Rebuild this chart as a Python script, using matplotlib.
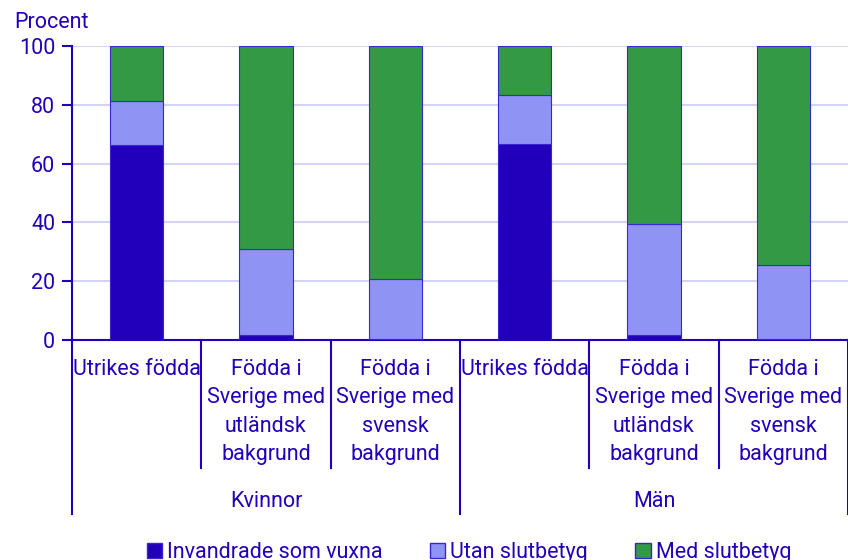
import matplotlib.pyplot as plt
import matplotlib.patches as mpatches
import numpy as np

plt.rcParams['font.family'] = ['Roboto', 'DejaVu Sans']

# data
grupper = ["Kvinnor", "Män"]
kategorier = ["Utrikes födda",
              "Födda i\nSverige med\nutländsk\nbakgrund",
              "Födda i\nSverige med\nsvensk\nbakgrund"]
invandrade_vuxna = [66.3, 1.8, 0.4, 66.6, 1.8, 0.2]
utan_slutbetyg = [14.9, 29.2, 20.2, 16.6, 37.6, 25.3]
med_slutbetyg = [18.8, 69.0, 79.4, 16.8, 60.6, 74.5]
serier = ["Invandrade som vuxna", "Utan slutbetyg", "Med slutbetyg"]

textfarg = "#2200bb"
farger = ["#2200bb", "#8f94f4", "#339944"]
fs = 15.5

fig = plt.figure(figsize=(8.48, 5.6), dpi=100)
ax = fig.add_axes([72 / 848, 1 - 340 / 560, 1 - 72 / 848, 294 / 560])

x = np.arange(len(invandrade_vuxna))
bottom = np.zeros(len(x))
for varden, farg in zip([invandrade_vuxna, utan_slutbetyg, med_slutbetyg], farger):
    ax.bar(x, varden, width=0.41, bottom=bottom, color=farg,
           edgecolor="#3a26d0", linewidth=0.8, zorder=3)
    bottom += np.array(varden)

ax.set_xlim(-0.5, len(x) - 0.5)
ax.set_ylim(0, 100)
ax.set_yticks([0, 20, 40, 60, 80, 100])
ax.yaxis.grid(True, color="#d4d4f2", linewidth=1.5, zorder=0)
ax.set_axisbelow(True)
ax.tick_params(axis="y", colors=textfarg, labelsize=fs, length=7, width=1.5, pad=5)
ax.tick_params(axis="x", bottom=False, labelbottom=False)
for s in ["top", "right"]:
    ax.spines[s].set_visible(False)
for s in ["left", "bottom"]:
    ax.spines[s].set_color(textfarg)
    ax.spines[s].set_linewidth(1.5)

fig.text(14 / 848, 1 - 28 / 560, "Procent", ha="left", va="baseline",
         fontsize=fs, color=textfarg)

trans = ax.get_xaxis_transform()
etiketter = kategorier * len(grupper)
for i, lab in enumerate(etiketter):
    ax.text(i, -0.065, lab, transform=trans, ha="center", va="top", fontsize=fs,
            color=textfarg, linespacing=1.45, clip_on=False)

# separatorlinjer under axeln
for i in range(len(x) + 1):
    gruppgrans = i % len(kategorier) == 0
    ned = -0.592 if gruppgrans else -0.435
    ax.plot([i - 0.5, i - 0.5], [0, ned], transform=trans, color=textfarg,
            linewidth=1.5, clip_on=False)

for g, namn in enumerate(grupper):
    mitt = g * len(kategorier) + (len(kategorier) - 1) / 2
    ax.text(mitt, -0.55, namn, transform=trans, ha="center", va="center",
            fontsize=fs, color=textfarg)

handtag = [mpatches.Patch(facecolor=f, edgecolor="#3a26d0", linewidth=1) for f in farger]
leg = fig.legend(handtag, serier, loc="center", bbox_to_anchor=(0.553, 0.014), ncol=3,
                 frameon=False, fontsize=fs, handlelength=0.7, handleheight=0.7,
                 handletextpad=0.25, columnspacing=2.2, borderpad=0)
for t in leg.get_texts():
    t.set_color(textfarg)

fig.savefig("out.png", dpi=100)
